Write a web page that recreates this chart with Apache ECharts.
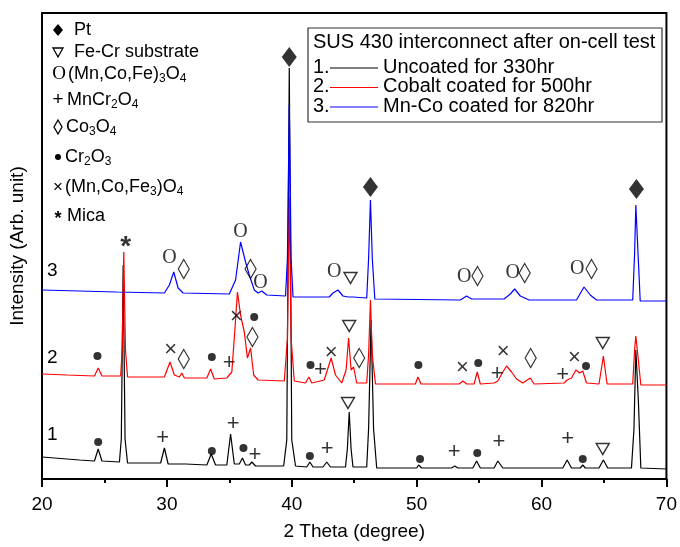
<!DOCTYPE html>
<html><head><meta charset="utf-8">
<script src="https://cdn.jsdelivr.net/npm/echarts@6/dist/echarts.min.js"></script>
<style>html,body{margin:0;padding:0;background:#fff}#c{width:680px;height:547px}</style>
</head><body><div id="c"></div>
<script>
// 2-theta (degree), intensity (arb. unit, offset traces)
const uncoated330 = [[20,22],[21,21],[22,20],[23,19],[24.2,18],[24.5,30],[24.8,18],[26.2,17],[26.35,40],[26.5,214],[26.65,40],[26.85,16],[27.5,16],[29.5,16],[29.8,31],[30.1,15],[31.5,15],[33.2,14],[33.55,25],[33.9,14],[34.8,14],[35.1,45],[35.4,15],[35.8,15],[36.05,21],[36.3,14],[36.6,14],[36.8,17],[37.1,13],[39.35,13],[39.6,39],[39.8,411],[40.0,39],[40.3,13],[41.2,12],[41.45,17],[41.7,12],[42.5,12],[42.8,17],[43.1,12],[44.3,12],[44.45,30],[44.6,67],[44.75,30],[44.9,12],[46.0,12],[46.15,50],[46.35,159],[46.55,50],[46.8,11],[50.0,11],[50.15,14],[50.4,11],[52.8,11],[53.05,13],[53.3,11],[54.5,11],[54.8,18],[55.1,11],[56.2,11],[56.5,18],[56.9,11],[61.7,11],[62.05,19],[62.4,11],[63.1,11],[63.3,14],[63.5,11],[64.6,11],[64.95,19],[65.3,11],[67.2,11],[67.4,50],[67.55,129],[67.75,79],[67.95,11],[70,10]];
const cobalt500 = [[20,105],[22,104],[24.2,103],[24.5,111],[24.8,103],[26.3,103],[26.42,130],[26.55,227],[26.68,130],[26.85,102],[29.8,102],[30.25,117],[30.6,104],[31.0,102],[31.2,106],[31.4,101],[33.2,101],[33.5,110],[33.8,100],[34.8,101],[35.2,107],[35.45,150],[35.65,187],[35.9,164],[36.2,147],[36.45,121],[36.7,131],[36.95,104],[37.3,99],[39.4,98],[39.65,140],[39.8,282],[39.95,140],[40.2,98],[41.1,96],[41.37,102],[41.6,96],[42.6,99],[43.15,121],[43.5,104],[44.0,96],[44.35,109],[44.55,141],[44.75,109],[44.95,112],[45.2,96],[46.0,96],[46.15,124],[46.3,179],[46.45,124],[46.7,95],[49.9,95],[50.1,102],[50.35,95],[53.4,95],[53.7,98],[54.0,95],[54.6,95],[54.85,107],[55.1,95],[56.2,96],[56.5,98],[56.9,107],[57.2,113],[57.6,107],[58.0,100],[58.5,96],[59.1,101],[59.4,95],[61.8,96],[62.05,99],[62.4,101],[62.75,109],[63.05,106],[63.3,108],[63.6,96],[64.6,95],[64.95,123],[65.25,95],[67.3,95],[67.45,129],[67.55,143],[67.75,119],[67.95,94],[70,94]];
const mnco820 = [[20,189],[23,188],[26,187],[29.8,186],[30.2,194],[30.55,207],[30.9,191],[31.3,186],[35.0,185],[35.5,199],[35.9,237],[36.3,217],[36.6,204],[37.0,189],[37.3,186],[37.6,188],[38.0,184],[39.5,183],[39.65,220],[39.8,374],[39.95,220],[40.1,182],[43.0,182],[43.3,186],[43.7,189],[44.1,183],[44.5,182],[44.65,184],[44.9,182],[46.0,181],[46.15,220],[46.3,279],[46.45,220],[46.65,180],[53.5,179],[54.0,183],[54.4,180],[57.0,180],[57.5,185],[57.85,190],[58.3,183],[59.0,179],[62.8,179],[63.4,192],[63.9,184],[64.4,179],[67.3,179],[67.45,225],[67.55,274],[67.75,219],[67.9,178],[70,178]];

// phase markers [2theta, intensity]
const ptMarks = [[39.8,422],[46.3,292],[67.6,290]];
const feCrMarks = [[44.7,201],[44.6,153],[64.9,136],[44.5,76],[64.9,30]];
const spinelMarks = [[30.2,221],[35.9,247],[37.5,196],[43.4,207],[53.8,202],[57.7,206],[62.85,210]];
const mnCr2O4Marks = [[29.67,41],[35.3,55],[37.04,24],[42.83,30],[53.0,27],[56.58,37],[62.1,40],[34.99,116],[42.3,109],[56.45,105],[61.7,104]];
const co3o4Marks = [[31.35,210],[36.7,210],[54.87,203],[58.65,206],[64.0,210],[31.35,120],[36.85,142],[45.4,121],[59.13,121]];
const cr2o3Marks = [[24.5,37],[33.6,28],[36.13,31],[41.45,23],[50.27,20],[54.85,26],[63.3,20],[24.44,123],[33.6,122],[36.99,162],[41.5,114],[50.14,114],[54.93,116],[63.56,113]];
const mnCoFe3Marks = [[30.3,129],[35.57,162],[43.15,126],[53.67,111],[56.92,127],[62.64,121]];
const micaMarks = [[26.7,236]];

const seriesNames = ['Uncoated for 330hr','Cobalt coated for 500hr','Mn-Co coated for 820hr'];
const seriesColors = ['#000000','#ff0000','#0000ff'];
const phaseLabels = ['Pt','Fe-Cr substrate','(Mn,Co,Fe){s|3}O{s|4}','MnCr{s|2}O{s|4}','Co{s|3}O{s|4}','Cr{s|2}O{s|3}','(Mn,Co,Fe{s|3})O{s|4}','Mica'];

const FONT = 'Liberation Sans, Arial, sans-serif';
const chart = echarts.init(document.getElementById('c'), null, {renderer:'canvas'});

function lineS(name, data, color){
  return {type:'line', name, data, showSymbol:false, symbol:'none', silent:true,
    lineStyle:{color, width:1.2}, itemStyle:{color}, animation:false, z:2};
}
function shapeS(data, symbol, size, style, rot){
  return {type:'scatter', data, symbol, symbolSize:size, symbolRotate:rot||0, silent:true,
    itemStyle:style, animation:false, z:5};
}
function textS(data, txt, fontSize, family, weight, dy){
  return {type:'scatter', data, symbol:'circle', symbolSize:1, silent:true, animation:false, z:5,
    itemStyle:{color:'rgba(0,0,0,0)'},
    label:{show:true, position:'inside', formatter:txt, fontSize, fontFamily:family||FONT,
      fontWeight:weight||'normal', color:'#000', offset:[0, dy||0]}};
}

const sub = {fontSize:12, fontFamily:FONT, color:'#000', padding:[10,0,0,0]};
const rowY = [30, 52, 74, 100, 127, 157, 187, 216];
const textX = [74, 74, 68, 67, 66, 65, 65, 67];
const graphics = [];
phaseLabels.forEach((t,i)=>{
  graphics.push({type:'text', x:textX[i], y:rowY[i], silent:true,
    style:{text:t, font:'18px '+FONT, fill:'#000', verticalAlign:'middle', rich:{s:sub}}});
});
const lgx = 58;
const yy = i => rowY[i];
graphics.push({type:'polygon', silent:true, shape:{points:[[lgx,yy(0)-6],[lgx+5,yy(0)],[lgx,yy(0)+6],[lgx-5,yy(0)]]}, style:{fill:'#000'}});
graphics.push({type:'polygon', silent:true, shape:{points:[[lgx-5,yy(1)-4],[lgx+5,yy(1)-4],[lgx,yy(1)+5]]}, style:{fill:'#fff', stroke:'#000', lineWidth:1.3}});
graphics.push({type:'text', silent:true, x:lgx+1, y:yy(2), style:{text:'O', font:'19px Liberation Serif, serif', fill:'#000', align:'center', verticalAlign:'middle'}});
graphics.push({type:'text', silent:true, x:lgx, y:yy(3), style:{text:'+', font:'19px '+FONT, fill:'#000', align:'center', verticalAlign:'middle'}});
graphics.push({type:'polygon', silent:true, shape:{points:[[lgx,yy(4)-7],[lgx+4,yy(4)],[lgx,yy(4)+7],[lgx-4,yy(4)]]}, style:{fill:'none', stroke:'#000', lineWidth:1.3}});
graphics.push({type:'circle', silent:true, shape:{cx:lgx, cy:yy(5), r:3}, style:{fill:'#000'}});
graphics.push({type:'text', silent:true, x:lgx, y:yy(6), style:{text:'×', font:'17px '+FONT, fill:'#000', align:'center', verticalAlign:'middle'}});
graphics.push({type:'text', silent:true, x:lgx, y:yy(7)+3, style:{text:'*', font:'bold 18px '+FONT, fill:'#000', align:'center', verticalAlign:'middle'}});

// right legend box
const bx = 308, by = 28, bw = 354, bh = 94;
graphics.push({type:'rect', silent:true, z:10, shape:{x:bx, y:by, width:bw, height:bh}, style:{fill:'#fff', stroke:'#333', lineWidth:1.2}});
graphics.push({type:'text', silent:true, z:11, x:bx+5, y:by+14, style:{text:'SUS 430 interconnect after on-cell test', font:'20px '+FONT, fill:'#000', verticalAlign:'middle'}});
seriesNames.forEach((n,i)=>{
  const ly = by + 39 + i*19.5;
  graphics.push({type:'text', silent:true, z:11, x:bx+5, y:ly, style:{text:(i+1)+'.', font:'20px '+FONT, fill:'#000', verticalAlign:'middle'}});
  graphics.push({type:'line', silent:true, z:11, shape:{x1:bx+22, y1:ly+1, x2:bx+70, y2:ly+1}, style:{stroke:seriesColors[i], lineWidth:1.2}});
  graphics.push({type:'text', silent:true, z:11, x:bx+75, y:ly, style:{text:n, font:'20px '+FONT, fill:'#000', verticalAlign:'middle'}});
});
// trace numbers
[['3',271],['2',358],['1',435]].forEach(t=>{
  graphics.push({type:'text', silent:true, x:47, y:t[1], style:{text:t[0], font:'19px '+FONT, fill:'#000', verticalAlign:'middle'}});
});

const option = {
  animation:false,
  backgroundColor:'#fff',
  grid:{left:42, right:11, top:13, bottom:68, show:true, borderColor:'#000', borderWidth:2, backgroundColor:'transparent'},
  xAxis:{type:'value', min:20, max:70, interval:10,
    name:'2 Theta (degree)', nameLocation:'middle', nameGap:43,
    nameTextStyle:{fontSize:19, fontFamily:FONT, color:'#000'},
    axisLine:{show:true, lineStyle:{color:'#000', width:2}},
    axisTick:{show:true, inside:false, length:8, lineStyle:{color:'#000', width:2}},
    minorTick:{show:true, splitNumber:2, length:4, lineStyle:{color:'#000', width:2}},
    axisLabel:{fontSize:19, fontFamily:FONT, color:'#000', margin:16},
    splitLine:{show:false}},
  yAxis:{type:'value', min:0, max:466,
    name:'Intensity (Arb. unit)', nameLocation:'middle', nameGap:15,
    nameTextStyle:{fontSize:19, fontFamily:FONT, color:'#000'},
    axisLine:{show:true, lineStyle:{color:'#000', width:2}},
    axisTick:{show:false}, axisLabel:{show:false}, splitLine:{show:false}},
  graphic: graphics,
  series:[
    lineS(seriesNames[0], uncoated330, seriesColors[0]),
    lineS(seriesNames[1], cobalt500, seriesColors[1]),
    lineS(seriesNames[2], mnco820, seriesColors[2]),
    shapeS(ptMarks, 'diamond', [15,20], {color:'#000'}),
    shapeS(feCrMarks, 'triangle', [13,11], {color:'#fff', borderColor:'#000', borderWidth:1.4}, 180),
    shapeS(co3o4Marks, 'diamond', [11,19], {color:'rgba(0,0,0,0)', borderColor:'#000', borderWidth:1.3}),
    shapeS(cr2o3Marks, 'circle', 8, {color:'#000'}),
    textS(spinelMarks, 'O', 20, 'Liberation Serif, serif'),
    textS(mnCr2O4Marks, '+', 22, FONT, 'normal', 0),
    textS(mnCoFe3Marks, '×', 22, FONT, 'normal', 0),
    textS(micaMarks, '*', 28, FONT, 'bold', 4)
  ]
};
chart.setOption(option);
</script></body></html>
